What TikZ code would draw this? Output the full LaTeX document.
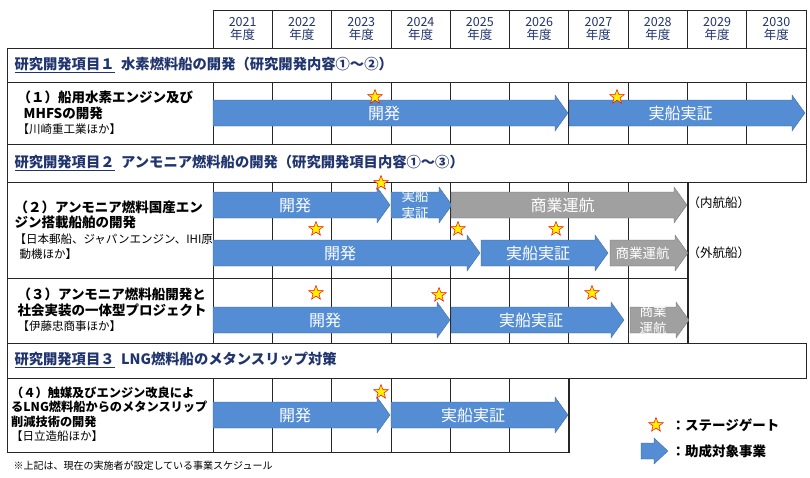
\documentclass[tikz,border=0pt]{standalone}
\usepackage{fontspec}
\setmainfont{Noto Sans CJK JP}
\usetikzlibrary{shapes.geometric}
\definecolor{barblue}{RGB}{84,141,212}
\definecolor{bargray}{RGB}{160,160,160}
\definecolor{headnavy}{RGB}{32,52,110}
\tikzstyle{grid}=[draw=black!85,line width=0.7pt]
\tikzstyle{yearlabel}=[font=\fontsize{12.5}{13.5}\selectfont,text=headnavy,align=center]
\tikzstyle{heading}=[anchor=west,font=\bfseries\fontsize{14.3}{16}\selectfont,text=headnavy]
\tikzstyle{item}=[anchor=west,align=left,font=\bfseries\fontsize{13.5}{15.5}\selectfont]
\tikzstyle{barlabel}=[text=white,font=\fontsize{16}{17}\selectfont,align=center,inner sep=0pt]
\tikzstyle{gate}=[star,star points=5,star point ratio=2.4,draw=red,fill=yellow,minimum size=15pt,inner sep=0pt,line width=0.5pt]
\newcommand{\smalllab}[1]{{\fontsize{13.5}{13}\selectfont #1}}
% bar arrow: x1, x2, y centre, colour, name, text
\newcommand{\bararrow}[6]{%
  \fill[#4,draw=#4!70!black,line width=0.3pt]
    (#1,#3-13) -- (#2-13,#3-13) -- (#2-13,#3-18) -- (#2,#3) -- (#2-13,#3+18)
    -- (#2-13,#3+13) -- (#1,#3+13) -- cycle;
  \node[barlabel] (#5) at ({(#1+#2-13)/2},#3) {#6};}

\begin{document}
\begin{tikzpicture}[x=1pt,y=-1pt]
  \useasboundingbox (0,0) rectangle (810,477);

  % year header
  \foreach \i/\yr in {0/2021,1/2022,2/2023,3/2024,4/2025,5/2026,6/2027,7/2028,8/2029,9/2030}{
    \draw[grid] ({213+59.3*\i},10) rectangle ({213+59.3*(\i+1)},48);
    \node[yearlabel] (y\yr) at ({213+59.3*(\i+0.5)},29) {\yr\\年度};
  }

  % rows
  \draw[grid] (7,48) rectangle (806,82);
  \draw[grid] (7,82) rectangle (806,144);
  \draw[grid] (7,144) rectangle (806,182);
  \draw[grid] (7,182) rectangle (688,343);
  \draw[grid] (7,278) -- (688,278);
  \draw[grid] (7,343) rectangle (806,378);
  \draw[grid] (7,378) rectangle (569,452);
  \foreach \i in {0,...,9} \draw[grid] ({213+59.3*\i},82) -- ({213+59.3*\i},144);
  \foreach \i in {0,...,8} \draw[grid] ({213+59.3*\i},182) -- ({213+59.3*\i},343);
  \foreach \i in {0,...,6} \draw[grid] ({213+59.3*\i},378) -- ({213+59.3*\i},452);

  % headings
  \node[heading] (h1) at (11,65) {\underline{研究開発項目１}\ \ 水素燃料船の開発（研究開発内容①～②）};
  \node[heading] (h2) at (11,163) {\underline{研究開発項目２}\ \ アンモニア燃料船の開発（研究開発項目内容①～③）};
  \node[heading] (h3) at (11,360) {\underline{研究開発項目３}\ \ LNG燃料船のメタンスリップ対策};

  % items
  \node[item] (i1) at (14,113) {（１）船用水素エンジン及び\\\ \ MHFSの開発\\{\mdseries\fontsize{11.5}{13}\selectfont 【川崎重工業ほか】}};
  \node[item] (i2) at (11,230) {（２）アンモニア燃料国産エン\\ジン搭載船舶の開発\\{\mdseries\fontsize{11.5}{13}\selectfont 【日本郵船、ジャパンエンジン、IHI原}\\{\mdseries\fontsize{11.5}{13}\selectfont \ \ 動機ほか】}};
  \node[item] (i3) at (14,310) {（３）アンモニア燃料船開発と\\社会実装の一体型プロジェクト\\{\mdseries\fontsize{11.5}{13}\selectfont 【伊藤忠商事ほか】}};
  \node[item,inner sep=1pt,font=\bfseries\fontsize{12.2}{14.5}\selectfont] (i4) at (10,414) {（４）触媒及びエンジン改良によ\\るLNG燃料船からのメタンスリップ\\削減技術の開発\\{\mdseries\fontsize{11.5}{13}\selectfont 【日立造船ほか】}};

  % bars
  \bararrow{213}{568}{113}{barblue}{b1a}{開発}
  \bararrow{569}{805}{113}{barblue}{b1b}{実船実証}
  \bararrow{213}{390}{205}{barblue}{b2a}{開発}
  \bararrow{391}{452}{205}{barblue}{b2b}{\smalllab{実船}\\\smalllab{実証}}
  \bararrow{451}{687}{205}{bargray}{b2c}{商業運航}
  \bararrow{213}{480}{253}{barblue}{b2d}{開発}
  \bararrow{481}{608}{253}{barblue}{b2e}{実船実証}
  \bararrow{610}{688}{253}{bargray}{b2f}{\fontsize{13.5}{14}\selectfont 商業運航}
  \bararrow{213}{450}{320}{barblue}{b3a}{開発}
  \bararrow{451}{624}{320}{barblue}{b3b}{実船実証}
  \bararrow{630}{689}{320}{bargray}{b3c}{\smalllab{商業}\\\smalllab{運航}}
  \bararrow{213}{390}{415}{barblue}{b4a}{開発}
  \bararrow{391}{568}{415}{barblue}{b4b}{実船実証}

  \node[anchor=west,font=\fontsize{12.5}{14}\selectfont] (dom) at (684,203) {（内航船）};
  \node[anchor=west,font=\fontsize{12.5}{14}\selectfont] (ovs) at (684,253) {（外航船）};

  % stage gates
  \foreach \nm/\x/\y in {s1/375/97,s2/617/97,s3/381/183,s4/316/229,s5/458/229,s6/556/229,s7/316/293,s8/439/295,s9/592/293,s10/381/392}
    \node[gate] (\nm) at (\x,\y) {};

  % legend
  \node[gate] (lg1) at (656,425) {};
  \node[anchor=west,font=\bfseries\fontsize{13.5}{15}\selectfont] (lt1) at (668,425) {：ステージゲート};
  \fill[barblue,draw=barblue!70!black,line width=0.3pt] (641,443) -- (654,443) -- (654,438) -- (668,451) -- (654,464) -- (654,459) -- (641,459) -- cycle;
  \node[anchor=west,font=\bfseries\fontsize{13.5}{15}\selectfont] (lt2) at (668,451) {：助成対象事業};

  \node[anchor=west,font=\fontsize{10}{11}\selectfont] (note) at (10,466) {※上記は、現在の実施者が設定している事業スケジュール};
\end{tikzpicture}
\end{document}
